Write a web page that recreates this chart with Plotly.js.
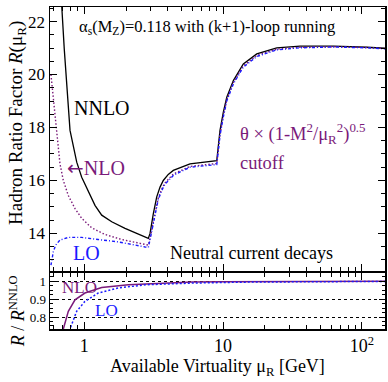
<!DOCTYPE html>
<html>
<head>
<meta charset="utf-8">
<script src="https://cdn.plot.ly/plotly-3.0.1.min.js"></script>
<style>html,body{margin:0;padding:0;background:#fff}#plot{width:388px;height:382px}</style>
</head>
<body>
<div id="plot"></div>
<script>
// ---- data ----
const nnloX = [0.687,0.717,0.789,0.833,0.882,0.958,1.069,1.194,1.335,1.576,1.966,2.32,2.82,2.894,2.977,3.06,3.145,3.327,3.515,3.71,4.03,4.38,5.78,9.01,9.25,9.51,10.05,10.64,11.87,14.0,17.5,24.4,35.9,62.4,108.7,150];
const nnloY = [22.63,20.97,17.89,17.26,16.69,16.12,15.56,15.06,14.69,14.44,14.19,14.02,13.85,13.81,14.0,14.44,14.75,15.38,15.75,16.0,16.23,16.38,16.63,16.75,17.38,17.89,18.58,19.14,19.77,20.40,20.78,21.01,21.07,21.07,21.03,20.99];

const nloX = [0.575,0.582,0.598,0.632,0.649,0.668,0.706,0.767,0.857,0.958,1.131,1.41,1.86,2.32,2.894,3.0,3.1,3.2,3.4,3.6,3.8,4.4,5.78,9.01,9.25,9.51,10.05,10.64,11.87,14.0,17.5,24.4,35.9,62.4,108.7,150];
const nloY = [20.0,19.71,19.08,17.85,17.13,16.63,16.0,15.43,14.94,14.57,14.21,13.96,13.77,13.66,13.56,13.9,14.3,14.7,15.3,15.65,15.9,16.25,16.53,16.64,17.25,17.75,18.45,19.05,19.7,20.33,20.72,20.96,21.03,21.05,21.02,20.98];

const loX = [0.575,0.582,0.598,0.622,0.668,0.767,0.958,1.26,1.76,2.74,2.894,3.0,3.1,3.2,3.4,3.6,3.8,4.4,5.78,9.01,9.25,9.51,10.05,10.64,11.87,14.0,17.5,24.4,35.9,62.4,108.7,150];
const loY = [12.8,12.99,13.31,13.56,13.75,13.85,13.85,13.77,13.68,13.49,13.47,13.85,14.25,14.65,15.25,15.6,15.85,16.2,16.5,16.6,17.2,17.7,18.4,19.0,19.65,20.28,20.68,20.93,21.01,21.04,21.01,20.97];

const ratioNloX = [0.69,0.706,0.767,0.857,1.01,1.334,2.08,2.88,3.6,6.0,10,30,150];
const ratioNloY = [0.70,0.733,0.832,0.896,0.934,0.965,0.980,0.985,0.990,0.995,0.997,0.999,1.0];
const ratioLoX = [0.77,0.789,0.881,1.01,1.26,1.76,2.74,6.3,15,50,150];
const ratioLoY = [0.70,0.733,0.832,0.887,0.934,0.962,0.980,0.990,0.995,0.998,0.999];

const xTickVals = [1,10,100];
const xTickText = ['1','10','10<sup>2</sup>'];
const yTickVals = [14,16,18,20,22];
const rTickVals = [0.8,0.9,1];
const rTickText = ['0.8','0.9','1'];

// ---- styles ----
const FONT = 'Liberation Serif, Times New Roman, serif';
const PURPLE = '#7a1a7a';
const BLUE = '#1a1aff';

const traces = [
  {x:nnloX,y:nnloY,xaxis:'x',yaxis:'y',mode:'lines',line:{color:'black',width:1.3},name:'NNLO'},
  {x:nloX,y:nloY,xaxis:'x',yaxis:'y',mode:'lines',line:{color:PURPLE,width:1.4,dash:'1.5px,2px'},name:'NLO'},
  {x:loX,y:loY,xaxis:'x',yaxis:'y',mode:'lines',line:{color:BLUE,width:1.4,dash:'3px,2px,1px,2px'},name:'LO'},
  {x:ratioNloX,y:ratioNloY,xaxis:'x2',yaxis:'y2',mode:'lines',line:{color:PURPLE,width:1.5},name:'NLO ratio'},
  {x:ratioLoX,y:ratioLoY,xaxis:'x2',yaxis:'y2',mode:'lines',line:{color:BLUE,width:1.5,dash:'2px,2px'},name:'LO ratio'}
];

const xr = [Math.log10(0.566), Math.log10(147)];
const axCommon = {showline:true,linecolor:'black',linewidth:1.5,mirror:'allticks',ticks:'inside',tickcolor:'black',zeroline:false};

const layout = {
  width:388,height:382,
  margin:{l:50,r:3,t:7,b:53},
  paper_bgcolor:'white',plot_bgcolor:'white',
  showlegend:false,
  font:{family:FONT,color:'black',size:17},
  xaxis:Object.assign({},axCommon,{type:'log',range:xr,anchor:'y',showticklabels:false,tickvals:xTickVals,ticklen:7,showgrid:false,
    minor:{ticks:'inside',ticklen:4,dtick:'D1',tickcolor:'black',showgrid:false}}),
  yaxis:Object.assign({},axCommon,{domain:[0.180,1],range:[12.58,22.55],tickvals:yTickVals,ticklen:7,showgrid:false,
    tickfont:{size:17,family:FONT},minor:{ticks:'inside',ticklen:4,dtick:0.5,tickcolor:'black',showgrid:false}}),
  xaxis2:Object.assign({},axCommon,{type:'log',range:xr,anchor:'y2',matches:'x',tickvals:xTickVals,ticktext:xTickText,ticklen:7,showgrid:false,
    tickfont:{size:18,family:FONT},
    minor:{ticks:'inside',ticklen:4,dtick:'D1',tickcolor:'black',showgrid:false},
    title:{text:'Available Virtuality μ<sub>R</sub> [GeV]',font:{size:18,family:FONT},standoff:4}}),
  yaxis2:Object.assign({},axCommon,{domain:[0,0.174],range:[0.733,1.046],tickvals:rTickVals,ticktext:rTickText,ticklen:6,
    showgrid:true,gridcolor:'black',griddash:'dot',gridwidth:1,tickfont:{size:13,family:FONT},
    minor:{ticks:'inside',ticklen:3,dtick:0.025,tickcolor:'black',showgrid:false}}),
  annotations:[
    {xref:'paper',yref:'paper',x:-0.0985,y:0.64,xanchor:'center',yanchor:'middle',textangle:-90,showarrow:false,
     text:'Hadron Ratio Factor <i>R</i>(μ<sub>R</sub>)',font:{size:19,family:FONT}},
    {xref:'paper',yref:'paper',x:-0.0985,y:0.055,xanchor:'center',yanchor:'middle',textangle:-90,showarrow:false,
     text:'<i>R</i> / <i>R</i><sup>NNLO</sup>',font:{size:18,family:FONT}},
    {xref:'paper',yref:'paper',x:0.0806,y:0.938,xanchor:'left',yanchor:'middle',showarrow:false,
     text:'α<sub>s</sub>(M<sub>Z</sub>)=0.118 with (k+1)-loop running',font:{size:16.5,family:FONT}},
    {xref:'paper',yref:'paper',x:0.0657,y:0.686,xanchor:'left',yanchor:'middle',showarrow:false,
     text:'NNLO',font:{size:20,family:FONT,color:'black'}},
    {xref:'paper',yref:'paper',x:0.0448,y:0.50,xanchor:'left',yanchor:'middle',showarrow:false,
     text:'<span style="font-family:DejaVu Sans">←</span>NLO',font:{size:20,family:FONT,color:PURPLE}},
    {xref:'paper',yref:'paper',x:0.0627,y:0.236,xanchor:'left',yanchor:'middle',showarrow:false,
     text:'LO',font:{size:20,family:FONT,color:BLUE}},
    {xref:'paper',yref:'paper',x:0.352,y:0.236,xanchor:'left',yanchor:'middle',showarrow:false,
     text:'Neutral current decays',font:{size:18,family:FONT,color:'black'}},
    {xref:'paper',yref:'paper',x:0.561,y:0.608,xanchor:'left',yanchor:'middle',showarrow:false,
     text:'θ × (1-M<sup>2</sup>/μ<sub>R</sub><sup>2</sup>)<sup>0.5</sup>',font:{size:18.5,family:FONT,color:PURPLE}},
    {xref:'paper',yref:'paper',x:0.561,y:0.516,xanchor:'left',yanchor:'middle',showarrow:false,
     text:'cutoff',font:{size:18.5,family:FONT,color:PURPLE}},
    {xref:'paper',yref:'paper',x:0.03,y:0.130,xanchor:'left',yanchor:'middle',showarrow:false,
     text:'NLO',font:{size:17,family:FONT,color:PURPLE}},
    {xref:'paper',yref:'paper',x:0.128,y:0.056,xanchor:'left',yanchor:'middle',showarrow:false,
     text:'LO',font:{size:17,family:FONT,color:BLUE}}
  ]
};

Plotly.newPlot('plot',traces,layout,{displayModeBar:false,staticPlot:true});
</script>
</body>
</html>
